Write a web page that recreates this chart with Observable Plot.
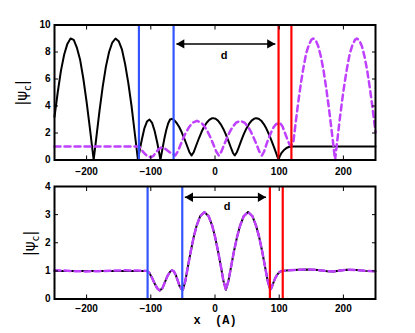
<!DOCTYPE html>
<html><head><meta charset="utf-8">
<script src="https://cdn.jsdelivr.net/npm/d3@7"></script>
<script src="https://cdn.jsdelivr.net/npm/@observablehq/plot@0.6"></script>
<style>
body{margin:0;background:#fff}
#chart{width:415px;height:333px;overflow:hidden;background:#fff}
#chart svg{display:block}
</style>
</head><body><div id="chart"></div>
<script>
// ---- data ----
const xTicks = [-200, -100, 0, 100, 200];
const topYTicks = [0, 2, 4, 6, 8, 10];
const bottomYTicks = [0, 1, 2, 3, 4];

// top panel, black solid |psi_c|
const topBlack = [[-250,3.2],[-245,5.0],[-240,6.6],[-235,7.8],[-230,8.6],[-225,9.0],[-220,8.9],[-215,8.3],[-210,7.4],[-205,6.0],[-200,4.3],[-195,2.4],[-189,0],[-185,1.6],[-180,3.6],[-175,5.4],[-170,6.9],[-165,8.0],[-160,8.7],[-155,9.0],[-150,8.8],[-145,8.2],[-140,7.1],[-135,5.7],[-130,4.0],[-125,2.0],[-120,0],
[-117,0.8],[-114,1.5],[-110,2.35],[-106,2.85],[-102,3.0],[-98,2.75],[-94,2.15],[-90,1.3],[-87,0.55],[-85,0],
[-82,0.8],[-79,1.55],[-76,2.2],[-73,2.7],[-70,3.0],[-67,3.05],[-64,2.97],
[-60,2.76],[-56,2.46],[-52,2.07],[-48,1.61],[-44,1.11],[-40,0.6],[-36.5,0.33],[-33,0.6],[-29,1.11],[-25,1.61],[-21,2.07],[-17,2.46],[-13,2.76],[-9,2.97],[-5,3.09],[-3,3.1],[1,3.05],[5,2.9],[9,2.64],[13,2.3],[17,1.88],[21,1.4],[25,0.89],[28,0.52],[30.8,0.33],[34,0.57],[37,0.94],[41,1.45],[45,1.93],[49,2.34],[53,2.67],[57,2.92],[61,3.06],[64,3.1],[68,3.06],[72,2.91],[76,2.66],[80,2.33],[84,1.91],[88,1.44],[92,0.93],[95,0.55],[97.5,0.2],[99,0],
[101,0.3],[104,0.55],[107,0.72],[110,0.84],[113,0.93],[116,0.98],[119,1.0],[250,1.0]];

// top panel, magenta dashed
const topMagenta = [[-250,1],[-118,1],[-115,0.8],[-112,0.6],[-108,0.4],[-104,0.25],[-100,0.2],[-96,0.3],[-92,0.55],[-88,0.8],[-84,0.92],[-80,0.9],[-76,0.78],[-72,0.62],[-68,0.5],[-65,0.42],[-62,0.33],
[-57.9,0.63],[-53.8,1.11],[-49.8,1.58],[-45,2.06],[-40.2,2.45],[-34.8,2.76],[-28,2.9],[-21.2,2.76],[-15.8,2.45],[-11,2.06],[-6.2,1.58],[-2.2,1.11],[1.9,0.63],[6,0.33],
[10,0.63],[14,1.11],[18.1,1.58],[22.8,2.06],[27.4,2.45],[32.8,2.76],[39.5,2.9],[46.2,2.76],[51.6,2.45],[56.3,2.06],[60.9,1.58],[65,1.11],[69,0.63],[73,0.33],
[76.5,0.63],[79.7,1.1],[83,1.55],[87,2.0],[91,2.4],[95,2.65],[101,2.75],[105,2.5],[109,2.0],[113,1.5],[116,1.15],[118.5,1.05],
[122,1.3],[126,2.9],[130,4.4],[134,5.75],[138,6.9],[142,7.9],[146,8.5],[150,8.9],[153,9.0],[157,8.85],[161,8.4],[165,7.65],[169,6.65],[173,5.4],[177,4.0],[181,2.45],[184,1.25],[187,0],
[190,1.24],[194,2.9],[198,4.4],[202,5.75],[206,6.9],[210,7.9],[214,8.5],[218,8.9],[221,9.0],[225,8.85],[229,8.4],[233,7.65],[237,6.65],[241,5.4],[245,4.0],[250,2.05]];

// bottom panel, black solid
const bottomBlack = [[-250,1],[-106,1],[-102,0.92],[-98,0.75],[-94,0.55],[-90,0.38],[-86,0.3],[-82,0.38],[-78,0.6],[-74,0.82],[-70,0.97],[-67,1.02],[-64,0.98],[-61,0.85],[-58,0.65],[-55,0.45],[-52,0.35],[-50,0.33],
[-46,0.66],[-42,1.18],[-37.9,1.68],[-33.2,2.2],[-28.6,2.61],[-23.2,2.94],[-16.5,3.09],[-9.8,2.94],[-4.4,2.61],[0.2,2.2],[4.9,1.68],[9,1.18],[13,0.66],[17,0.33],
[21.1,0.66],[25.3,1.18],[29.4,1.68],[34.3,2.2],[39.1,2.61],[44.6,2.94],[51.5,3.09],[58.4,2.94],[63.9,2.61],[68.8,2.2],[73.6,1.68],[77.7,1.18],[81.9,0.66],[86,0.33],
[88,0.4],[91,0.58],[94,0.75],[97,0.87],[100,0.95],[103,0.99],[105,1.0],[115,1.02],[130,1.04],[145,1.05],[160,1.03],[175,0.99],[185,0.98],[195,1.01],[205,1.04],[220,1.03],[235,1.0],[250,0.99]];

// bottom panel, magenta dashed (left lead differs slightly, the rest coincides)
const bottomMagentaLeft = [[-250,1.02],[-235,1.01],[-220,0.99],[-200,0.98],[-180,0.99],[-160,1.01],[-140,1.02],[-120,1.01]];
const bottomMagentaRest = [[-106,1],[-102,0.92],[-98,0.75],[-94,0.55],[-90,0.38],[-86,0.3],[-82,0.38],[-78,0.6],[-74,0.82],[-70,0.97],[-67,1.02],[-64,0.98],[-61,0.85],[-58,0.65],[-55,0.45],[-52,0.35],[-50,0.33],
[-46,0.66],[-42,1.18],[-37.9,1.68],[-33.2,2.2],[-28.6,2.61],[-23.2,2.94],[-16.5,3.09],[-9.8,2.94],[-4.4,2.61],[0.2,2.2],[4.9,1.68],[9,1.18],[13,0.66],[17,0.33],
[21.1,0.66],[25.3,1.18],[29.4,1.68],[34.3,2.2],[39.1,2.61],[44.6,2.94],[51.5,3.09],[58.4,2.94],[63.9,2.61],[68.8,2.2],[73.6,1.68],[77.7,1.18],[81.9,0.66],[86,0.33],
[88,0.4],[91,0.58],[94,0.75],[97,0.87],[100,0.95],[103,0.99],[105,1.0],[115,1.02],[130,1.04],[145,1.05],[160,1.03],[175,0.99],[185,0.98],[195,1.01],[205,1.04],[220,1.03],[235,1.0],[250,0.99]];

// interface positions
const topBlue = [-118.5, -64.5];
const topRed = [99, 119];
const bottomBlue = [-105, -51];
const bottomRed = [85.5, 105.5];

// "d" arrows: tips, head centres, height
const topArrow = {x1: -60, x2: 94, h1: -52, h2: 85.5, y: 8.6};
const bottomArrow = {x1: -47, x2: 79.5, h1: -38.5, h2: 71, y: 3.62};
const topD = {x: 14, y: 7.76, t: "d"};
const bottomD = {x: 19, y: 3.3, t: "d"};

// ---- drawing ----
const MAGENTA = "#bf40ff", BLUE = "#3355ff", RED = "#ff0000";

function panel(o) {
  return Plot.plot({
    width: 415, height: o.height,
    marginLeft: 54, marginRight: 40, marginTop: o.marginTop, marginBottom: o.marginBottom,
    style: {fontFamily: "'Liberation Sans', Arial, sans-serif", fontSize: "10px", fontWeight: "bold", background: "#fff", color: "#000", overflow: "visible"},
    x: {domain: [-250, 250]},
    y: {domain: o.yDomain},
    marks: [
      Plot.line(o.black, {x: d => d[0], y: d => d[1], stroke: "#000", strokeWidth: 2, strokeLinejoin: "round"}),
      Plot.line(o.magenta, {x: d => d[0], y: d => d[1], stroke: MAGENTA, strokeWidth: 2.5, strokeDasharray: "6,4"}),
      Plot.ruleX(o.blue, {stroke: BLUE, strokeWidth: 2.2}),
      Plot.ruleX(o.red, {stroke: RED, strokeWidth: 2.2}),
      Plot.link([o.arrow], {x1: "x1", x2: "x2", y1: "y", y2: "y", stroke: "#000", strokeWidth: 1.5}),
      Plot.dot([o.arrow], {x: "h1", y: "y", symbol: "triangle", rotate: -90, fill: "#000", stroke: null, r: 3.5}),
      Plot.dot([o.arrow], {x: "h2", y: "y", symbol: "triangle", rotate: 90, fill: "#000", stroke: null, r: 3.5}),
      Plot.text([o.d], {x: "x", y: "y", text: "t", fontSize: 11, fontWeight: "bold"}),
      Plot.axisX({ticks: xTicks, tickSize: -4, tickPadding: o.xPad, tickFormat: d3.format("d"), label: null}),
      Plot.axisX({anchor: "top", ticks: xTicks, tickSize: -4, tickFormat: () => "", label: null}),
      Plot.axisY({ticks: o.yTicks, tickSize: -4, tickPadding: 8, tickFormat: d3.format("d"), label: null}),
      Plot.axisY({anchor: "right", ticks: o.yTicks, tickSize: -4, tickFormat: () => "", label: null}),
      Plot.frame({stroke: "#000", strokeWidth: 2})
    ]
  });
}

function yLabel(svg, x, y) {
  const t = d3.select(svg).append("text")
    .attr("transform", `translate(${x},${y}) rotate(-90)`)
    .attr("text-anchor", "middle")
    .style("font-family", "'DejaVu Sans', sans-serif")
    .style("font-size", "15px")
    .style("font-weight", "normal")
    .attr("fill", "#000");
  t.append("tspan").text("|ψ");
  t.append("tspan").attr("dy", 4).style("font-size", "10px").text("c");
  t.append("tspan").attr("dy", -4).text("|");
}

const chartDiv = document.getElementById("chart");
const topPanel = panel({height: 175, marginTop: 24.5, marginBottom: 15.5, yDomain: [0, 10], yTicks: topYTicks, xPad: 12,
  black: topBlack, magenta: topMagenta, blue: topBlue, red: topRed, arrow: topArrow, d: topD});
const bottomPanel = panel({height: 158, marginTop: 11, marginBottom: 34.5, yDomain: [0, 4], yTicks: bottomYTicks, xPad: 9.5,
  black: bottomBlack, magenta: bottomMagentaLeft.concat(bottomMagentaRest), blue: bottomBlue, red: bottomRed, arrow: bottomArrow, d: bottomD});
yLabel(topPanel, 27, 93);
yLabel(bottomPanel, 35, 68.5);
d3.select(bottomPanel).append("text")
  .attr("x", 193.5).attr("y", 149)
  .attr("text-anchor", "start")
  .style("font-family", "'Liberation Mono', 'Courier New', monospace")
  .style("font-size", "12px").style("font-weight", "bold").style("white-space", "pre")
  .attr("xml:space", "preserve")
  .attr("fill", "#000")
  .text("x  (A)");
chartDiv.appendChild(topPanel);
chartDiv.appendChild(bottomPanel);
</script>
</body></html>
